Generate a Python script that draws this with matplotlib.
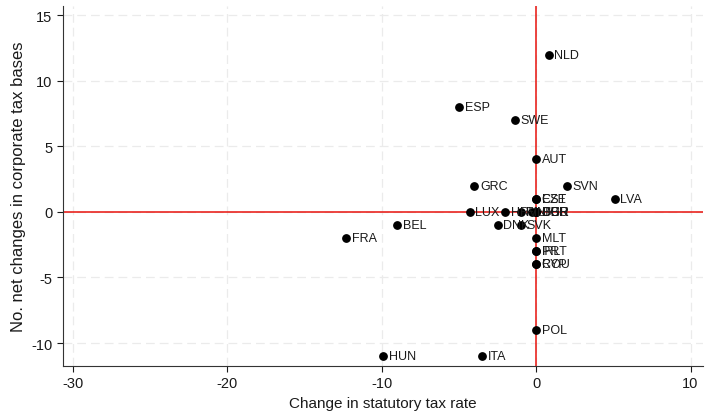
import matplotlib
matplotlib.use("Agg")
import matplotlib.pyplot as plt

plt.rcParams['font.family'] = ['Liberation Sans', 'DejaVu Sans']
plt.rcParams['axes.unicode_minus'] = False

countries = ["NLD", "ESP", "SWE", "AUT", "GRC", "SVN", "LVA", "CZE", "EST",
             "LUX", "HRV", "FIN", "LTU", "DEU", "GBR", "BGR", "DNK", "SVK",
             "BEL", "FRA", "MLT", "IRL", "PRT", "CYP", "ROU", "POL", "HUN", "ITA"]
rate_change = [0.8, -5.0, -1.4, 0.0, -4.0, 2.0, 5.1, 0.0, 0.0,
               -4.3, -2.0, -1.0, -0.3, 0.0, 0.0, 0.0, -2.5, -1.0,
               -9.0, -12.3, 0.0, 0.0, 0.0, 0.0, 0.0, 0.0, -9.9, -3.5]
base_changes = [12, 8, 7, 4, 2, 2, 1, 1, 1,
                0, 0, 0, 0, 0, 0, 0, -1, -1,
                -1, -2, -2, -3, -3, -4, -4, -9, -11, -11]

fig = plt.figure(figsize=(7.05, 4.14), dpi=100)
ax = fig.add_axes([0.0894, 0.1135, 0.9076, 0.8695])

ax.set_xlim(-30.65, 10.8)
ax.set_ylim(-11.75, 15.7)
ax.set_xticks([-30, -20, -10, 0, 10])
ax.set_yticks([-10, -5, 0, 5, 10, 15])
ax.grid(True, color='#ebebeb', linestyle=(0, (7, 4)), linewidth=0.9)
ax.set_axisbelow(True)

ax.axhline(0, color='#e8120c', linewidth=1.1, zorder=2)
ax.axvline(0, color='#e8120c', linewidth=1.1, zorder=2)

ax.scatter(rate_change, base_changes, s=28, color='black', zorder=3)
for name, x, y in zip(countries, rate_change, base_changes):
    ax.annotate(name, (x, y), xytext=(4, 0), textcoords='offset points',
                va='center', ha='left', fontsize=9, color='#1a1a1a', zorder=4)

for side in ['top', 'right']:
    ax.spines[side].set_visible(False)
for side in ['left', 'bottom']:
    ax.spines[side].set_color('#333333')
ax.tick_params(direction='out', length=4, labelsize=10.5, colors='#1a1a1a')

ax.set_xlabel("Change in statutory tax rate", fontsize=11, color='#1a1a1a')
ax.set_ylabel("No. net changes in corporate tax bases", fontsize=12, color='#1a1a1a')

fig.savefig("out.png", dpi=100)
